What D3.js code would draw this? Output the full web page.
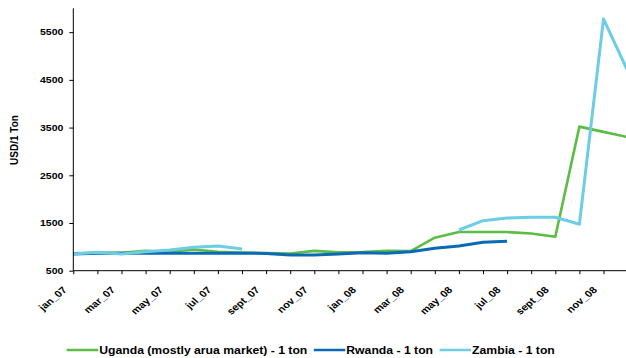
<!DOCTYPE html>
<html>
<head>
<meta charset="utf-8">
<script src="https://cdn.jsdelivr.net/npm/d3@7"></script>
<style>
  html, body { margin: 0; padding: 0; background: #fff; }
  svg { display: block; font-family: "Liberation Sans", Arial, sans-serif; font-weight: bold; }
</style>
</head>
<body>
<svg id="chart" width="626" height="358"></svg>
<script>
// ---- data ----
const months = ["jan_07","feb_07","mar_07","apr_07","may_07","jun_07","jul_07","aug_07","sept_07","oct_07","nov_07","dec_07",
                "jan_08","feb_08","mar_08","apr_08","may_08","jun_08","jul_08","aug_08","sept_08","oct_08","nov_08","dec_08"];
const labeledMonths = ["jan_07","mar_07","may_07","jul_07","sept_07","nov_07","jan_08","mar_08","may_08","jul_08","sept_08","nov_08"];
const uganda = [865, 877, 877, 915, 898, 945, 898, 880, 870, 862, 915, 885,
                890, 915, 912, 1192, 1310, 1310, 1310, 1280, 1213, 3520, 3410, 3300];
const rwanda = [850, 865, 865, 865, 865, 865, 865, 865, 862, 830, 828, 848,
                877, 865, 898, 970, 1018, 1096, 1115, null, null, null, null, null];
const zambia = [850, 886, 850, 898, 934, 990, 1020, 955, null, null, null, null,
                null, null, null, null, 1353, 1548, 1605, 1620, 1620, 1473, 5778, 4690];
const yTicks = [500, 1500, 2500, 3500, 4500, 5500];
const seriesNames = ["Uganda (mostly arua market) - 1 ton", "Rwanda - 1 ton", "Zambia - 1 ton"];
const seriesColors = ["#5cbd45", "#0a6ab6", "#6ccde4"];
const seriesValues = [uganda, rwanda, zambia];

// ---- layout ----
const svg = d3.select("#chart");
const x0 = 73.3, x1 = 627.6, yTop = 8.3, yBot = 270.7;
const stretch = 1.22;

const x = d3.scalePoint().domain(months).range([x0, x1]);
const y = d3.scaleLinear().domain([500, 6000]).range([yBot, yTop]);

// lines
const line = d3.line()
  .defined(d => d.v != null)
  .x(d => x(d.m))
  .y(d => y(d.v));

seriesValues.forEach((vals, i) => {
  svg.append("path")
    .datum(months.map((m, j) => ({ m, v: vals[j] })))
    .attr("fill", "none")
    .attr("stroke", seriesColors[i])
    .attr("stroke-width", i === 0 ? 2.6 : 3)
    .attr("stroke-linejoin", "round")
    .attr("d", line);
});

// y axis
const yAxis = svg.append("g")
  .attr("transform", `translate(${x0},0)`)
  .call(d3.axisLeft(y).tickValues(yTicks).tickSize(4).tickPadding(6).tickFormat(d3.format("d")));
yAxis.select(".domain").attr("d", `M0,${yTop}V${yBot}`).attr("stroke", "#000");
yAxis.selectAll(".tick line").attr("stroke", "#000");
yAxis.selectAll("text")
  .attr("fill", "#000")
  .style("font-size", "8.6px")
  .style("font-family", "'Liberation Sans', Arial, sans-serif")
  .style("font-weight", "bold")
  .each(function () {
    const w = this.getComputedTextLength();
    d3.select(this).attr("textLength", w * stretch).attr("lengthAdjust", "spacingAndGlyphs");
  });

// x axis
const xAxis = svg.append("g")
  .attr("transform", `translate(0,${yBot})`)
  .call(d3.axisBottom(x).tickSize(3.5).tickFormat(""));
xAxis.select(".domain").attr("d", `M${x0},0H626`).attr("stroke", "#000");
xAxis.selectAll(".tick line").attr("stroke", "#000");
xAxis.selectAll(".tick text").remove();

svg.append("g").selectAll("text")
  .data(labeledMonths)
  .join("text")
  .attr("text-anchor", "end")
  .attr("dy", "0.35em")
  .attr("transform", d => `translate(${x(d) - 8.5},${yBot + 17.5}) scale(1.18,1) rotate(-45)`)
  .style("font-size", "9.4px")
  .attr("fill", "#000")
  .text(d => d);

// y title
svg.append("text")
  .attr("transform", `translate(18,140) rotate(-90)`)
  .attr("text-anchor", "middle")
  .style("font-size", "10px")
  .attr("fill", "#000")
  .text("USD/1 Ton");

// legend
const legend = svg.append("g");
let lx = 66.7;
const ly = 350;
seriesNames.forEach((name, i) => {
  legend.append("line")
    .attr("x1", lx).attr("x2", lx + 31.5)
    .attr("y1", ly).attr("y2", ly)
    .attr("stroke", seriesColors[i])
    .attr("stroke-width", 2.6);
  const t = legend.append("text")
    .attr("x", lx + 32.5)
    .attr("y", ly)
    .attr("dy", "0.36em")
    .style("font-size", "10px")
    .attr("fill", "#000")
    .text(name);
  const w = t.node().getComputedTextLength() * stretch;
  t.attr("textLength", w).attr("lengthAdjust", "spacingAndGlyphs");
  lx = lx + 32.5 + w + 6.5;
});
</script>
</body>
</html>
